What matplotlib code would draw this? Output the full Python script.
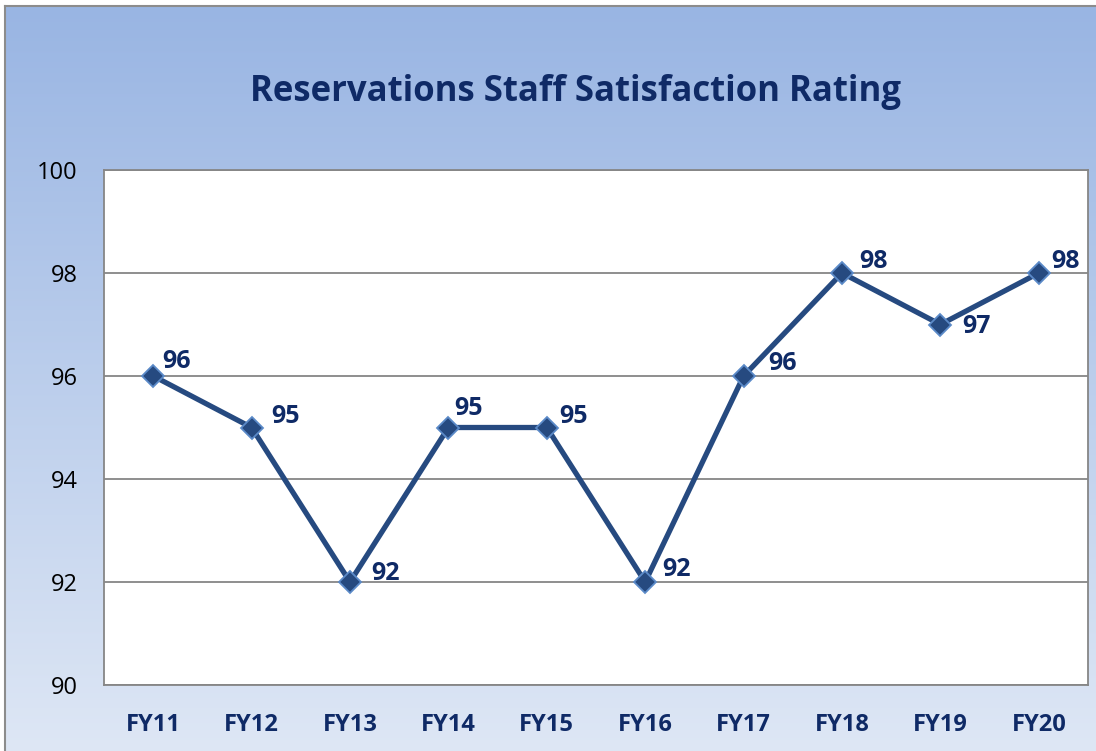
import numpy as np
import matplotlib.pyplot as plt

# dati
years = ['FY11', 'FY12', 'FY13', 'FY14', 'FY15', 'FY16', 'FY17', 'FY18', 'FY19', 'FY20']
rating = [96, 95, 92, 95, 95, 92, 96, 98, 97, 98]

# spostamento etichette (pixel)
lab_dx = [23, 34, 36, 20, 27, 31, 39, 32, 36, 27]
lab_dy = [15, 11, 9, 19, 11, 12, 13, 12, -2, 11]

W, H = 1096, 751
fig = plt.figure(figsize=(W / 100, H / 100), dpi=100)
fig.patch.set_facecolor('white')

# sfondo sfumato
bg = fig.add_axes([5 / W, 0, 1 - 5 / W, 1 - 7 / H])
grad = np.linspace(0, 1, 256).reshape(-1, 1)
top = np.array([0.600, 0.710, 0.890])
bot = np.array([0.870, 0.905, 0.960])
img = top[None, None, :] * (1 - grad[:, :, None]) + bot[None, None, :] * grad[:, :, None]
bg.imshow(img, aspect='auto', extent=[0, 1, 0, 1])
bg.set_xlim(0, 1)
bg.set_ylim(0, 1)
bg.axis('off')
fig.add_artist(plt.Line2D([4.5 / W, 4.5 / W], [0, 1 - 6 / H], color='#8c8c8c', lw=1.5))
fig.add_artist(plt.Line2D([4.5 / W, 1], [1 - 6 / H, 1 - 6 / H], color='#8c8c8c', lw=1.5))

ax = fig.add_axes([104 / W, 1 - 685 / H, (1088 - 104) / W, (685 - 170) / H])
ax.set_facecolor('white')
x = np.arange(len(years))
ax.plot(x, rating, color='#264a80', lw=3.8, marker='D', ms=11,
        mfc='#264a80', mec='#5b8ac8', mew=1.3, zorder=3)

for i, v in enumerate(rating):
    ax.annotate(str(v), (x[i], v), xytext=(lab_dx[i] * 0.72, lab_dy[i] * 0.72),
                textcoords='offset points', ha='center', va='center',
                fontsize=18, fontweight='bold', color='#0f2a66', family='Open Sans')

ax.set_xlim(-0.5, len(years) - 0.5)
ax.set_ylim(90, 100)
ax.set_yticks([90, 92, 94, 96, 98, 100])
ax.set_xticks(x)
ax.set_xticklabels(years, fontsize=17, fontweight='bold', color='#0f2a66', family='Open Sans')
for t in ax.get_yticklabels():
    t.set_fontsize(17)
    t.set_family('Open Sans')
ax.tick_params(axis='both', length=0)
ax.tick_params(axis='x', pad=20)
ax.tick_params(axis='y', pad=19)
ax.grid(axis='y', color='#868686', lw=1.3)
ax.set_axisbelow(True)
for s in ax.spines.values():
    s.set_color('#868686')
    s.set_linewidth(1.3)

fig.text(575 / W, 1 - 92 / H, 'Reservations Staff Satisfaction Rating', ha='center', va='center',
         fontsize=25, fontweight='bold', color='#0f2a66', family='Open Sans')

fig.savefig('out.png', dpi=100)
